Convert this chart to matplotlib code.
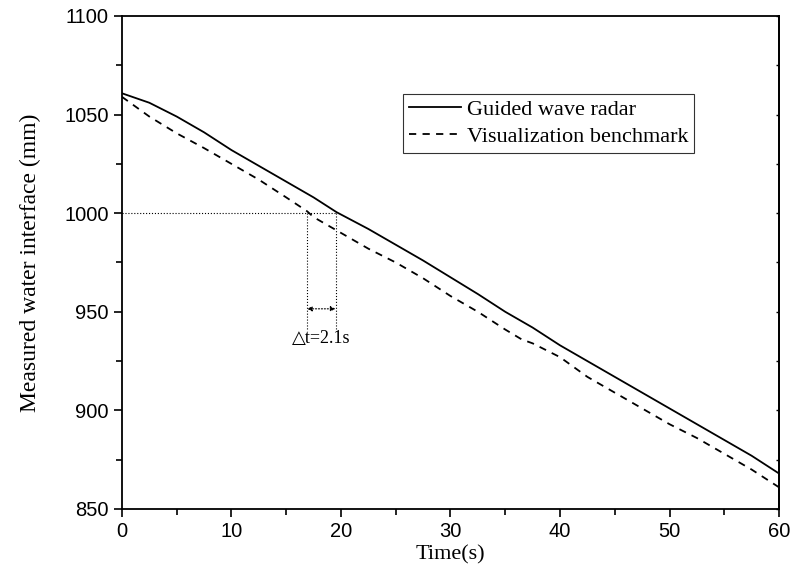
import matplotlib.pyplot as plt
from matplotlib.ticker import MultipleLocator

# time axis (s) and readings (mm)
t_radar = [0, 2.5, 5, 7.5, 10, 12.5, 15, 17.5, 19.6, 22.5, 25, 27.5, 30, 32.5,
           35, 37.5, 40, 42.5, 45, 47.5, 50, 52.5, 55, 57.5, 60]
h_radar = [1060.8, 1056, 1049, 1041, 1032, 1024, 1016, 1008, 1000.5, 992, 984, 976,
           967.5, 959, 950, 942, 933, 925, 917, 909, 901, 893, 885, 877, 868]

t_bench = [0, 2.5, 5, 7.5, 10, 12.5, 15, 16.9, 17.5, 20, 22.5, 25, 27.5, 30, 32.5,
           35, 36.5, 37.5, 40, 42.5, 45, 47.5, 50, 52.5, 55, 57.5, 60]
h_bench = [1059, 1049, 1040.5, 1033, 1025, 1017, 1008, 1001, 998, 990, 982, 975, 967,
           958, 950, 941, 936, 934, 927, 917, 909, 901, 893, 886, 878, 870, 861]

t1, t2 = 16.9, 19.5   # crossing times at 1000 mm
level = 1000

sans = 'Liberation Sans'
serif = 'Liberation Serif'

fig = plt.figure(figsize=(7.92, 5.75), dpi=100)
ax = fig.add_axes([0.154, 0.1148, 0.8296, 0.8574])

ax.plot(t_radar, h_radar, 'k-', lw=1.3, label='Guided wave radar')
ax.plot(t_bench, h_bench, 'k--', lw=1.3, dashes=(4, 3.5), label='Visualization benchmark')

# annotation lines
ax.plot([0, t2], [level, level], 'k:', lw=0.8)
ax.plot([t1, t1], [level, 940.5], 'k:', lw=0.8)
ax.plot([t2, t2], [level, 940.5], 'k:', lw=0.8)
ax.annotate('', xy=(t1, 951.5), xytext=(t2, 951.5),
            arrowprops=dict(arrowstyle='<|-|>', linestyle=':', lw=0.8, color='k',
                            mutation_scale=7, shrinkA=0, shrinkB=0))
ax.text((t1 + t2) / 2, 936.5, '\u25b3t=2.1s', ha='center', va='center',
        fontsize=13, family=[serif, 'DejaVu Sans'])

ax.set_xlim(0, 60)
ax.set_ylim(850, 1100)
ax.xaxis.set_major_locator(MultipleLocator(10))
ax.xaxis.set_minor_locator(MultipleLocator(5))
ax.yaxis.set_major_locator(MultipleLocator(50))
ax.yaxis.set_minor_locator(MultipleLocator(25))
ax.tick_params(which='major', direction='out', length=6, width=1.2, labelsize=14.5)
ax.tick_params(which='minor', direction='out', length=4, width=1.2)
ax.tick_params(which='both', right=False, top=False)
for lbl in ax.get_xticklabels() + ax.get_yticklabels():
    lbl.set_family(sans)
for s in ax.spines.values():
    s.set_linewidth(1.3)

ax2 = ax.secondary_yaxis('right')
ax2.yaxis.set_major_locator(MultipleLocator(25))
ax2.tick_params(direction='in', length=2, width=1, labelright=False)
ax2.spines['right'].set_linewidth(1.3)

ax.set_xlabel('Time(s)', fontsize=16, family=serif, labelpad=3)
ax.set_ylabel('Measured water interface (mm)', fontsize=17, family=serif, labelpad=17)

leg = ax.legend(loc='upper left', bbox_to_anchor=(0.428, 0.842),
                prop={'family': serif, 'size': 16}, frameon=True, fancybox=False,
                borderpad=0.25, handlelength=2.35, handletextpad=0.25, labelspacing=0.3,
                borderaxespad=0)
leg.get_frame().set_edgecolor('k')
leg.get_frame().set_linewidth(0.8)

fig.savefig('out.png', dpi=100)
